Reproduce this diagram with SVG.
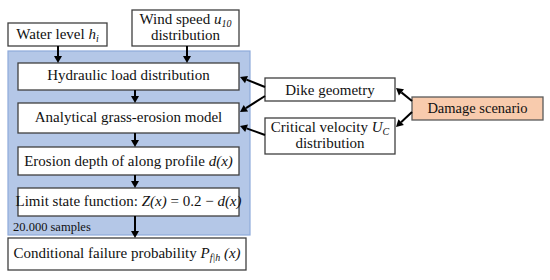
<svg xmlns="http://www.w3.org/2000/svg" width="550" height="280" viewBox="0 0 550 280">
<rect width="550" height="280" fill="#fff"/>
<g id="container">
<rect x="8" y="51" width="242" height="184" fill="#b4c7e7" stroke="#8eaadb" stroke-width="1.2"/>
<text x="13" y="231" font-family="Times New Roman, Liberation Serif, serif" font-size="12.5" fill="#111">20.000 samples</text>
</g>
<g id="water">
<rect x="8" y="23" width="99" height="23" fill="#fff" stroke="#3f3f3f" stroke-width="1.3"/>
<text font-family="Times New Roman, Liberation Serif, serif" font-size="15" fill="#111" text-anchor="middle" x="57.5" y="39">Water level <tspan font-style="italic">h</tspan><tspan font-style="italic" font-size="10" dy="3">i</tspan></text>
</g>
<g id="wind">
<rect x="132" y="10" width="107" height="36" fill="#fff" stroke="#3f3f3f" stroke-width="1.3"/>
<text font-family="Times New Roman, Liberation Serif, serif" font-size="15" fill="#111" text-anchor="middle" x="185.5" y="24">Wind speed <tspan font-style="italic">u</tspan><tspan font-style="italic" font-size="10" dy="3">10</tspan></text>
<text font-family="Times New Roman, Liberation Serif, serif" font-size="15" fill="#111" text-anchor="middle" x="185.5" y="40">distribution</text>
</g>
<g id="hydraulic">
<rect x="18" y="63" width="221" height="27" fill="#fff" stroke="#3f3f3f" stroke-width="1.3"/>
<text font-family="Times New Roman, Liberation Serif, serif" font-size="15" fill="#111" text-anchor="middle" x="128.5" y="80">Hydraulic load distribution</text>
</g>
<g id="analytical">
<rect x="18" y="103" width="221" height="30" fill="#fff" stroke="#3f3f3f" stroke-width="1.3"/>
<text font-family="Times New Roman, Liberation Serif, serif" font-size="15" fill="#111" text-anchor="middle" x="128.5" y="122">Analytical grass-erosion model</text>
</g>
<g id="erosion">
<rect x="18" y="147" width="221" height="28" fill="#fff" stroke="#3f3f3f" stroke-width="1.3"/>
<text font-family="Times New Roman, Liberation Serif, serif" font-size="15" fill="#111" text-anchor="middle" x="128.5" y="166">Erosion depth of along profile <tspan font-style="italic">d(x)</tspan></text>
</g>
<g id="limit">
<rect x="18" y="188" width="221" height="28" fill="#fff" stroke="#3f3f3f" stroke-width="1.3"/>
<text font-family="Times New Roman, Liberation Serif, serif" font-size="15" fill="#111" text-anchor="middle" x="128.5" y="206">Limit state function: <tspan font-style="italic">Z(x)</tspan> = 0.2 &#8722; <tspan font-style="italic">d(x)</tspan></text>
</g>
<g id="conditional">
<rect x="8" y="238" width="238" height="32" fill="#fff" stroke="#3f3f3f" stroke-width="1.3"/>
<text font-family="Times New Roman, Liberation Serif, serif" font-size="15" fill="#111" text-anchor="middle" x="127" y="258">Conditional failure probability <tspan font-style="italic">P</tspan><tspan font-style="italic" font-size="10" dy="3">f|h</tspan><tspan font-style="italic" dy="-3"> (x)</tspan></text>
</g>
<g id="dike">
<rect x="265" y="78" width="130" height="23" fill="#fff" stroke="#3f3f3f" stroke-width="1.3"/>
<text font-family="Times New Roman, Liberation Serif, serif" font-size="15" fill="#111" text-anchor="middle" x="330" y="95">Dike geometry</text>
</g>
<g id="critical">
<rect x="265" y="118" width="130" height="36" fill="#fff" stroke="#3f3f3f" stroke-width="1.3"/>
<text font-family="Times New Roman, Liberation Serif, serif" font-size="15" fill="#111" text-anchor="middle" x="330" y="132">Critical velocity <tspan font-style="italic">U</tspan><tspan font-style="italic" font-size="10" dy="3">C</tspan></text>
<text font-family="Times New Roman, Liberation Serif, serif" font-size="15" fill="#111" text-anchor="middle" x="330" y="148">distribution</text>
</g>
<g id="damage">
<rect x="412" y="97" width="131" height="23" fill="#f8cbad" stroke="#5a5a5a" stroke-width="1.3"/>
<text font-family="Times New Roman, Liberation Serif, serif" font-size="14.5" fill="#111" text-anchor="middle" x="477.5" y="113">Damage scenario</text>
</g>
<g id="connectors">
<g stroke="#000" stroke-width="2">
<line x1="58" y1="46" x2="58" y2="57"/>
<line x1="187" y1="46" x2="187" y2="57"/>
<line x1="135" y1="90" x2="135" y2="97"/>
<line x1="135" y1="133" x2="135" y2="141"/>
<line x1="135" y1="175" x2="135" y2="182"/>
<line x1="135" y1="216" x2="135" y2="232"/>
<line x1="265" y1="87" x2="246.5" y2="79.6"/>
<line x1="265" y1="96" x2="245.9" y2="108.2"/>
<line x1="265" y1="135" x2="246.6" y2="128.4"/>
<line x1="412" y1="101" x2="401.4" y2="92.4"/>
<line x1="412" y1="112" x2="401.1" y2="122.2"/>
</g>
<g fill="#000">
<polygon points="54,56 62,56 58,63"/>
<polygon points="183,56 191,56 187,63"/>
<polygon points="131,96 139,96 135,103"/>
<polygon points="131,140 139,140 135,147"/>
<polygon points="131,181 139,181 135,188"/>
<polygon points="131,231 139,231 135,238"/>
<polygon points="248,75.9 245,83.3 240,77"/>
<polygon points="248.1,111.6 243.7,104.9 240,112"/>
<polygon points="248,124.6 245.2,132.1 240,126"/>
<polygon points="404,89.3 398.9,95.5 396,88"/>
<polygon points="403.9,125.1 398.4,119.3 396,127"/>
</g>
</g>
</svg>
